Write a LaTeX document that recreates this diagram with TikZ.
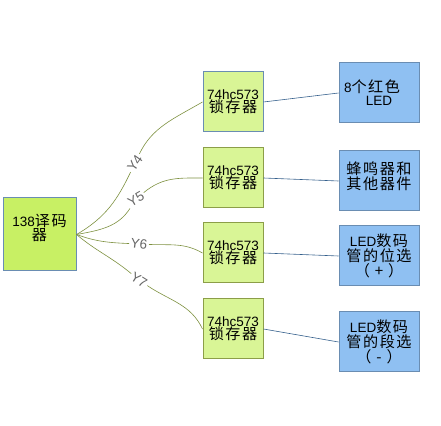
\documentclass[tikz,border=0pt]{standalone}
\usepackage{fontspec}
\setmainfont{Liberation Sans}
\newfontfamily\cjk[Scale=1.12,LetterSpace=10]{Noto Sans CJK SC}
\usepackage{tikz}
\definecolor{decfill}{HTML}{C8F064}
\definecolor{latchfill}{HTML}{D9F596}
\definecolor{bluefill}{HTML}{8FC0F2}
\definecolor{blueedge}{HTML}{6A8DB2}
\definecolor{greenedge}{HTML}{8C9E48}
\definecolor{olivewire}{HTML}{7E9140}
\definecolor{bluewire}{HTML}{35608C}
\tikzset{
  box/.style={draw, line width=1pt, inner sep=0pt, align=center,
    font=\fontsize{13.5}{13}\selectfont},
  decbox/.style={box, fill=decfill, draw=blueedge, minimum size=73pt},
  latchbox/.style={box, fill=latchfill, draw=greenedge, minimum width=60pt, minimum height=60pt},
  outbox/.style={box, fill=bluefill, draw=blueedge, minimum width=80pt, minimum height=60pt},
  branch/.style={draw=olivewire, line width=0.6pt},
  ylab/.style={text=gray!80!black, inner sep=1.5pt, font=\fontsize{13.5}{13}\selectfont},
  link/.style={draw=bluewire, line width=0.6pt}
}
\begin{document}
\begin{tikzpicture}[x=1pt,y=1pt]
\useasboundingbox (0,0) rectangle (441,425);
\node[decbox] (dec) at (39.5,190.5) {138{\cjk 译码}\\{\cjk 器}\\[2pt]\mbox{}};
\node[latchbox, draw=blueedge] (l4) at (233,323) {74hc573\\{\cjk 锁存器}};
\node[latchbox] (l5) at (233,247) {74hc573\\{\cjk 锁存器}};
\node[latchbox] (l6) at (233,172) {74hc573\\{\cjk 锁存器}};
\node[latchbox] (l7) at (233,96) {74hc573\\{\cjk 锁存器}};
\node[outbox] (led) at (379,332) {8{\cjk 个红色}\hspace*{14pt}\\LED};
\node[outbox] (buz) at (379,244) {{\cjk 蜂鸣器和}\\{\cjk 其他器件}\\[-2pt]\mbox{}};
\node[outbox] (pos) at (379,169) {LED{\cjk 数码}\\{\cjk 管的位选}\\{\cjk （ + ）}};
\node[outbox] (seg) at (379,83) {LED{\cjk 数码}\\{\cjk 管的段选}\\{\cjk （ - ）}};
\node[ylab, rotate=55] (y4) at (135,262) {Y4};
\node[ylab, rotate=30] (y5) at (136,226) {Y5};
\node[ylab, rotate=-8] (y6) at (139,181) {Y6};
\node[ylab, rotate=-32] (y7) at (139,145) {Y7};
\draw[branch] (dec.east) to[out=30,in=235] (y4);
\draw[branch] (y4) to[out=55,in=210] (l4.west);
\draw[branch] (dec.east) to[out=10,in=230] (y5);
\draw[branch] (y5) to[out=30,in=180] (l5.west);
\draw[branch] (dec.east) to[out=-20,in=180] (y6);
\draw[branch] (y6) to[out=0,in=150] (l6.west);
\draw[branch] (dec.east) to[out=-40,in=150] (y7);
\draw[branch] (y7) to[out=-25,in=115] (l7.west);
\draw[link] (l4.east) -- (led.west);
\draw[link] (l5.east) -- (buz.west);
\draw[link] (l6.east) -- (pos.west);
\draw[link] (l7.east) -- (seg.west);
\end{tikzpicture}
\end{document}
